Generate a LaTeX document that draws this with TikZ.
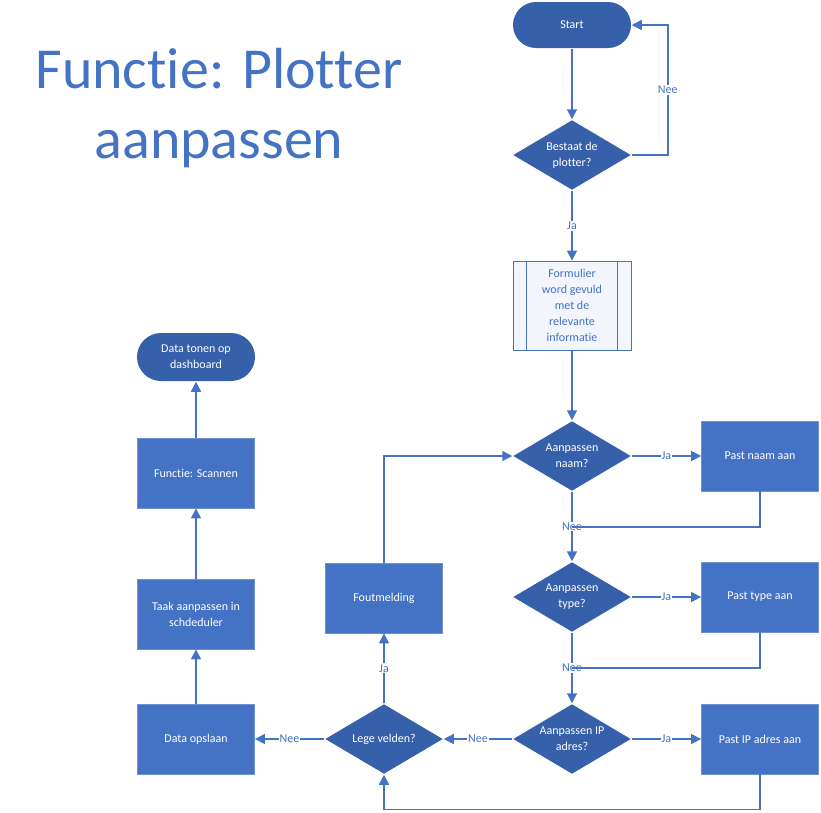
\documentclass[tikz,border=0pt]{standalone}
\usepackage{fontspec}
\setmainfont{Carlito}[Ligatures=NoCommon]
\usetikzlibrary{arrows.meta,shapes.geometric}
\definecolor{lineblue}{RGB}{68,114,196}
\definecolor{darkblue}{RGB}{55,96,170}
\definecolor{boxblue}{RGB}{68,114,196}
\definecolor{boxedge}{RGB}{110,145,210}
\definecolor{formfill}{RGB}{242,246,252}
\begin{document}
\begin{tikzpicture}[x=1pt,y=-1pt,>={Triangle[length=10pt,width=10pt]},line width=1.5pt,draw=lineblue]
  \tikzstyle{txt}=[font=\fontsize{12}{16}\selectfont, align=center]
  \tikzstyle{term}=[txt, fill=darkblue, text=white, rounded corners=23pt, minimum width=118pt, minimum height=46pt, inner sep=0pt]
  \tikzstyle{decision}=[txt, diamond, fill=darkblue, text=white, aspect=1.7, minimum width=118pt, minimum height=70pt, inner sep=0pt]
  \tikzstyle{box}=[txt, fill=boxblue, draw=boxedge, line width=0.8pt, text=white, minimum width=117pt, minimum height=70pt, inner sep=0pt]
  \tikzstyle{lbl}=[font=\fontsize{12}{14}\selectfont, text=lineblue, fill=white, inner sep=1pt]

  \useasboundingbox (0,0) rectangle (821,812);

  \node[font=\fontsize{58}{70}\selectfont, text=lineblue, align=center, inner sep=0pt] (title) at (219,108) {Functie: Plotter\\aanpassen};

  \node[term] (start) at (572,25) {Start};
  \node[decision] (exists) at (572,155) {Bestaat de\\plotter?};
  \node[txt, fill=formfill, draw=lineblue, line width=0.8pt, text=lineblue, minimum width=118pt, minimum height=89pt, inner sep=0pt] (form) at (572,305.5) {Formulier\\word gevuld\\met de\\relevante\\informatie};
  \draw[line width=0.8pt] ([xshift=14pt]form.north west) -- ([xshift=14pt]form.south west);
  \draw[line width=0.8pt] ([xshift=-14pt]form.north east) -- ([xshift=-14pt]form.south east);

  \node[decision] (qname) at (572,456) {Aanpassen\\naam?};
  \node[box] (pname) at (760,456) {Past naam aan};
  \node[decision] (qtype) at (572,597) {Aanpassen\\type?};
  \node[box] (ptype) at (760,597) {Past type aan};
  \node[decision] (qip) at (572,739) {Aanpassen IP\\adres?};
  \node[box] (pip) at (760,739) {Past IP adres aan};

  \node[decision] (empty) at (384,739) {Lege velden?};
  \node[box] (error) at (384,598) {Foutmelding};
  \node[box] (save) at (196,739) {Data opslaan};
  \node[box] (sched) at (196,614) {Taak aanpassen in\\schdeduler};
  \node[box] (scan) at (196,473) {Functie: Scannen};
  \node[term, minimum height=48pt, rounded corners=24pt] (dashb) at (196,357) {Data tonen op\\dashboard};

  \coordinate (j1) at (572,527);
  \coordinate (j2) at (572,668);

  \draw[->] (start) -- (exists);
  \draw[->] (exists.east) -- ++(36,0) |- (start.east) node[lbl, pos=0.25] {Nee};
  \draw[->] (exists) -- (form) node[lbl, midway] {Ja};
  \draw[->] (form) -- (qname);

  \draw[->] (qname) -- (pname) node[lbl, midway] {Ja};
  \draw[->] (qname) -- (qtype) node[lbl, midway] {Nee};
  \draw (pname.south) |- (j1);

  \draw[->] (qtype) -- (ptype) node[lbl, midway] {Ja};
  \draw[->] (qtype) -- (qip) node[lbl, midway] {Nee};
  \draw (ptype.south) |- (j2);

  \draw[->] (qip) -- (pip) node[lbl, midway] {Ja};
  \draw[->] (pip.south) -- ++(0,35) -| (empty.south);
  \draw[->] (qip) -- (empty) node[lbl, midway] {Nee};

  \draw[->] (empty) -- (error) node[lbl, midway] {Ja};
  \draw[->] (error.north) |- (qname.west);
  \draw[->] (empty) -- (save) node[lbl, midway] {Nee};

  \draw[->] (save) -- (sched);
  \draw[->] (sched) -- (scan);
  \draw[->] (scan) -- (dashb);
\end{tikzpicture}
\end{document}
